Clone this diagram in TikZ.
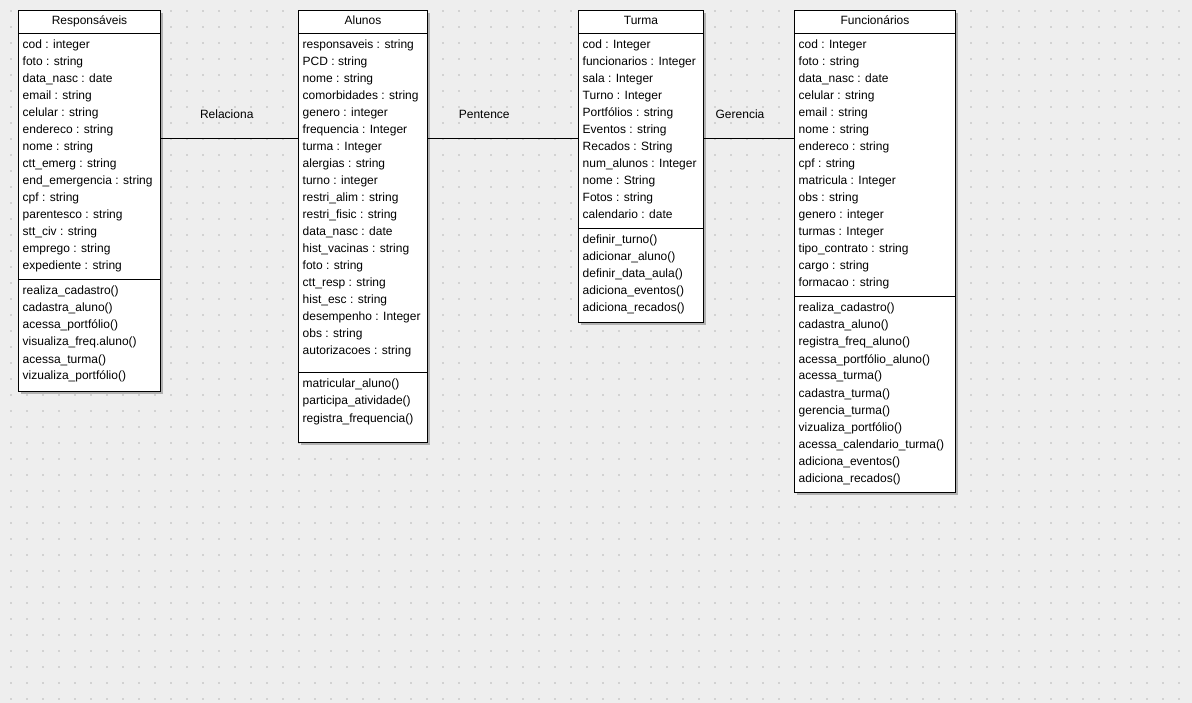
\documentclass[tikz,border=0pt]{standalone}
\usepackage{fontspec}
\setmainfont{Liberation Sans}
\usetikzlibrary{calc,shadows}
\definecolor{bg}{HTML}{EEEEEE}
\definecolor{dotc}{HTML}{D2D2D2}
\tikzset{
  classbox/.style={draw=black, line width=1pt, fill=white, rectangle, anchor=north west, inner sep=0pt,
    drop shadow={shadow xshift=2.5pt, shadow yshift=-2.5pt, fill=black!30, opacity=1}},
  boxline/.style={draw=black, line width=1pt},
  ctitle/.style={anchor=base, inner sep=0pt, font=\fontsize{12}{14}\selectfont},
  item/.style={anchor=base west, inner sep=0pt, font=\fontsize{12}{14}\selectfont},
  conn/.style={draw=black, line width=1pt},
  elabel/.style={anchor=base, inner sep=0pt, yshift=20pt, font=\fontsize{12}{14}\selectfont}
}
% #1 name, #2 x, #3 width, #4 height, #5 title, #6 separator y, #7 attributes, #8 methods
\newcommand{\umlclass}[8]{%
  \node[classbox, minimum width=#3 pt, minimum height=#4 pt] (#1) at (#2,10) {};
  \node[ctitle] (#1-t) at ($(#1.north)+(0,15)$) {#5};
  \draw[boxline] (#2,34) -- ++(#3,0);
  \draw[boxline] (#2,#6) -- ++(#3,0);
  \foreach \t [count=\i from 0] in {#7} \node[item] (#1-a\i) at (#2+4.5, 49+17*\i) {\t};
  \foreach \t [count=\i from 0] in {#8} \node[item] (#1-m\i) at (#2+4.5, #6+15+17*\i) {\t};
}
\begin{document}
\begin{tikzpicture}[x=1pt,y=-1pt]
\useasboundingbox (0,0) rectangle (1192,703);
\fill[bg] (0,0) rectangle (1192,703);
\foreach \gx in {10,26,...,1190} \foreach \gy in {10,26,...,700} \fill[dotc] (\gx,\gy) rectangle ++(2,2);

\umlclass{resp}{18}{142}{381}{Responsáveis}{280}{cod : integer,foto : string,data\_nasc : date,email : string,celular : string,endereco : string,nome : string,ctt\_emerg : string,end\_emergencia : string,cpf : string,parentesco : string,stt\_civ : string,emprego : string,expediente : string}{realiza\_cadastro(),cadastra\_aluno(),acessa\_portfólio(),visualiza\_freq.aluno(),acessa\_turma(),vizualiza\_portfólio()}

\umlclass{alun}{298}{129}{432}{Alunos}{373}{responsaveis : string,PCD : string,nome : string,comorbidades : string,genero : integer,frequencia : Integer,turma : Integer,alergias : string,turno : integer,restri\_alim : string,restri\_fisic : string,data\_nasc : date,hist\_vacinas : string,foto : string,ctt\_resp : string,hist\_esc : string,desempenho : Integer,obs : string,autorizacoes : string}{matricular\_aluno(),participa\_atividade(),registra\_frequencia()}

\umlclass{turm}{578}{125}{312}{Turma}{229}{cod : Integer,funcionarios : Integer,sala : Integer,Turno : Integer,Portfólios : string,Eventos : string,Recados : String,num\_alunos : Integer,nome : String,Fotos : string,calendario : date}{definir\_turno(),adicionar\_aluno(),definir\_data\_aula(),adiciona\_eventos(),adiciona\_recados()}

\umlclass{func}{794}{161}{482}{Funcionários}{297}{cod : Integer,foto : string,data\_nasc : date,celular : string,email : string,nome : string,endereco : string,cpf : string,matricula : Integer,obs : string,genero : integer,turmas : Integer,tipo\_contrato : string,cargo : string,formacao : string}{realiza\_cadastro(),cadastra\_aluno(),registra\_freq\_aluno(),acessa\_portfólio\_aluno(),acessa\_turma(),cadastra\_turma(),gerencia\_turma(),vizualiza\_portfólio(),acessa\_calendario\_turma(),adiciona\_eventos(),adiciona\_recados()}

\coordinate (ly) at (0,138.5);
\draw[conn] (resp.east |- ly) -- node[elabel, pos=0.48] (l1) {Relaciona} (alun.west |- ly);
\draw[conn] (alun.east |- ly) -- node[elabel, pos=0.375] (l2) {Pentence} (turm.west |- ly);
\draw[conn] (turm.east |- ly) -- node[elabel, pos=0.40] (l3) {Gerencia} (func.west |- ly);
\end{tikzpicture}
\end{document}
